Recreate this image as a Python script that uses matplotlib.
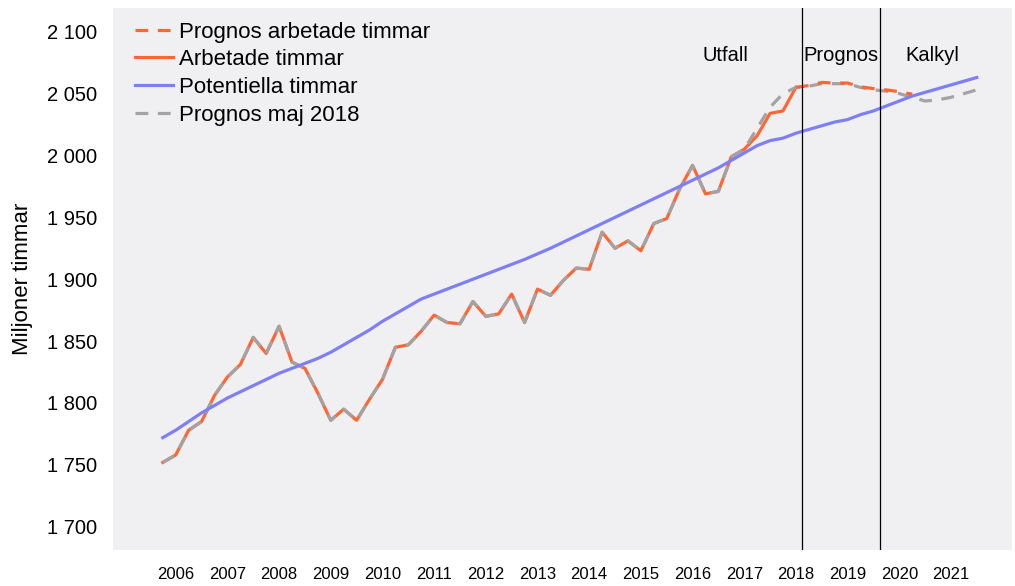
import matplotlib
matplotlib.use("Agg")
import matplotlib.pyplot as plt
import numpy as np

plt.rcParams['font.family'] = ['Liberation Sans', 'DejaVu Sans']

# quarterly data, 2006Q1 .. 2021Q4
start_year = 2006
years = list(range(2006, 2022))

arbetade = [1752, 1758, 1778, 1785, 1806, 1821, 1831, 1853, 1840, 1862,
            1833, 1828, 1808, 1786, 1795, 1786, 1803, 1819, 1845, 1847,
            1858, 1871, 1865, 1864, 1882, 1870, 1872, 1888, 1865, 1892,
            1887, 1899, 1909, 1908, 1938, 1925, 1931, 1923, 1945, 1949,
            1973, 1992, 1969, 1971, 1999, 2005, 2016, 2034, 2036, 2055]

# forecast from 2018Q2 (index 49) to 2020Q3
prognos_arbetade = [2055, 2056.5, 2059, 2058.5, 2058.5, 2055.5, 2054,
                    2053, 2051.5, 2049.5]

potentiella = [1772, 1778, 1785, 1792, 1798, 1804, 1809, 1814, 1819, 1824,
               1828, 1832, 1836, 1841, 1847, 1853, 1859, 1866, 1872, 1878,
               1884, 1888, 1892, 1896, 1900, 1904, 1908, 1912, 1916, 1920.5,
               1925, 1930, 1935, 1940, 1945, 1950, 1955, 1960, 1965, 1970,
               1975, 1980, 1985, 1990, 1996, 2002, 2008, 2012, 2014, 2018,
               2021, 2024, 2027, 2029, 2033, 2036, 2040, 2044, 2048, 2051,
               2054, 2057, 2060, 2063]

prognos_maj2018 = [1752, 1758, 1778, 1785, 1806, 1821, 1831, 1853, 1840, 1862,
                   1833, 1828, 1808, 1786, 1795, 1786, 1803, 1819, 1845, 1847,
                   1858, 1871, 1865, 1864, 1882, 1870, 1872, 1888, 1865, 1892,
                   1887, 1899, 1909, 1908, 1938, 1925, 1931, 1923, 1945, 1949,
                   1973, 1992, 1969, 1971, 1999, 2005, 2022, 2039, 2050, 2055,
                   2056, 2058, 2058, 2058, 2055, 2053, 2052, 2050, 2047, 2044,
                   2045, 2047, 2050, 2053]

period_labels = ['Utfall', 'Prognos', 'Kalkyl']


def qx(n, offset=0):
    return start_year + (np.arange(n) + offset) / 4


orange = '#ff6633'
blue = '#7f7ff5'
gray = '#a3a3a3'

fig = plt.figure(figsize=(10.15, 5.86), dpi=100)
ax = fig.add_axes([0.111, 0.061, 0.886, 0.925])
ax.set_facecolor('#f0f0f2')

ax.plot(qx(len(arbetade)), arbetade, color=orange, lw=2.3, zorder=2,
        label='Arbetade timmar')
ax.plot(qx(len(prognos_maj2018)), prognos_maj2018, color=gray, lw=2.3,
        dashes=(4, 3), zorder=3, label='Prognos maj 2018')
ax.plot(qx(len(prognos_arbetade), len(arbetade) - 1), prognos_arbetade,
        color=orange, lw=2.3, dashes=(4, 3), dash_capstyle='butt', zorder=4,
        label='Prognos arbetade timmar')
ax.plot(qx(len(potentiella)), potentiella, color=blue, lw=2.3, zorder=5,
        label='Potentiella timmar')

# period separators between 2018Q2/Q3 and 2019Q4/2020Q1
for xv in [2018.375, 2019.875]:
    ax.axvline(xv, color='black', lw=0.9, zorder=6)

for xv, txt in zip([2016.88, 2019.13, 2020.88], period_labels):
    ax.text(xv, 2081, txt, ha='center', va='center', fontsize=14.5)

ax.set_xlim(2005.03, 2022.43)
ax.set_ylim(1681, 2119)
ax.set_yticks(np.arange(1700, 2101, 50))
ax.set_yticklabels([f'{v:,}'.replace(',', ' ') for v in range(1700, 2101, 50)],
                   fontsize=14.5)
ax.set_xticks([y + 0.25 for y in years])
ax.set_xticklabels([str(y) for y in years], fontsize=12)
ax.tick_params(length=0)
ax.tick_params(axis='y', pad=11)
ax.tick_params(axis='x', pad=12)
for s in ax.spines.values():
    s.set_visible(False)

ax.set_ylabel('Miljoner timmar', fontsize=16, labelpad=10)

h, l = ax.get_legend_handles_labels()
order = [2, 0, 3, 1]
ax.legend([h[i] for i in order], [l[i] for i in order], loc='upper left',
          bbox_to_anchor=(0.01, 1.0), frameon=False, fontsize=16,
          handlelength=1.7, handletextpad=0.27, labelspacing=0.3,
          borderaxespad=0.2)

fig.savefig('out.png', dpi=100)
